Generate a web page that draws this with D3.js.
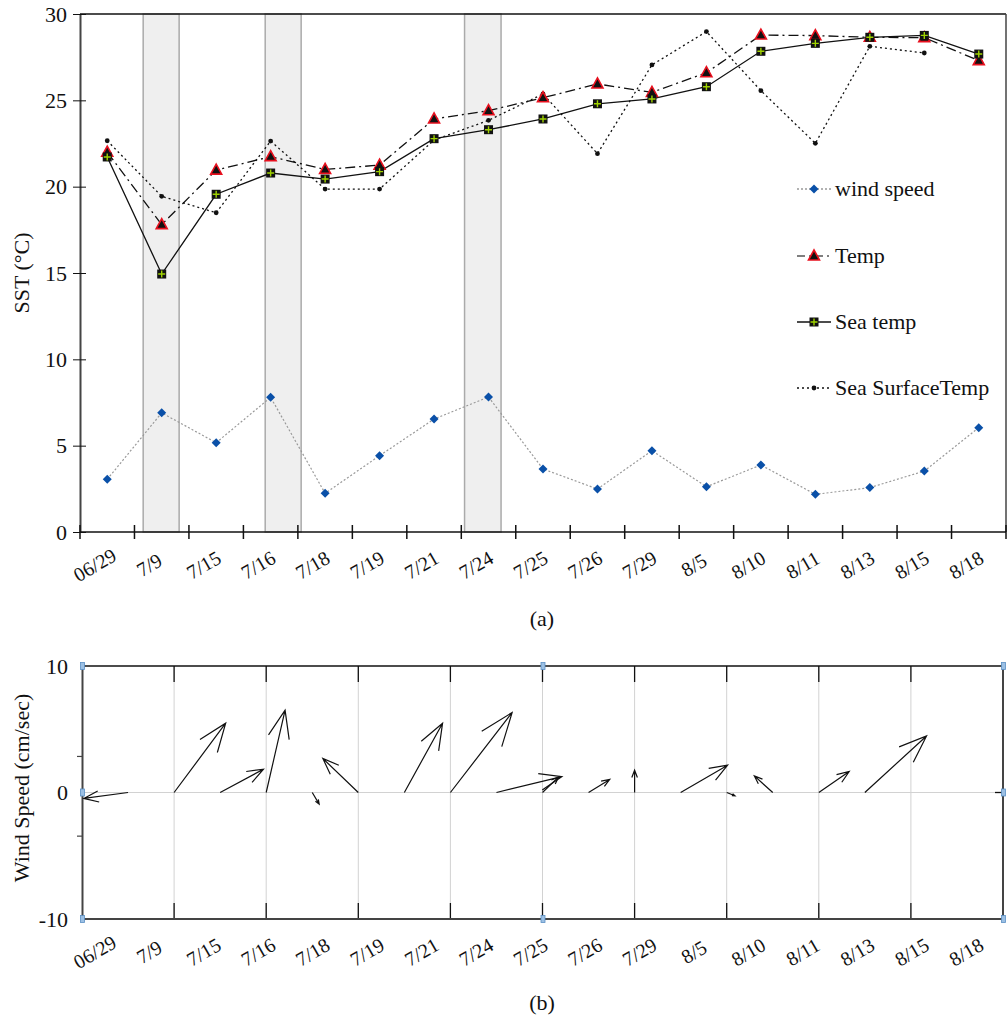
<!DOCTYPE html>
<html>
<head>
<meta charset="utf-8">
<script src="https://cdn.jsdelivr.net/npm/d3@7"></script>
<style>
  body { margin: 0; background: #fff; }
  svg text { font-family: "Liberation Serif", "Times New Roman", Times, serif; fill: #111; }
</style>
</head>
<body>
<script>
// dates shared by both panels
const dates = ["06/29", "7/9", "7/15", "7/16", "7/18", "7/19", "7/21", "7/24", "7/25",
  "7/26", "7/29", "8/5", "8/10", "8/11", "8/13", "8/15", "8/18"];

// panel (a) series
const windSpeed = [3.05, 6.9, 5.17, 7.8, 2.24, 4.42, 6.54, 7.82, 3.65, 2.49, 4.71, 2.62, 3.88, 2.18, 2.57, 3.53, 6.04];
const temp = [22.0, 17.8, 20.96, 21.74, 21.0, 21.25, 23.92, 24.4, 25.15, 25.95, 25.46, 26.6, 28.78, 28.75, 28.65, 28.63, 27.3];
const seaTemp = [21.72, 14.94, 19.56, 20.79, 20.44, 20.87, 22.78, 23.3, 23.92, 24.8, 25.08, 25.79, 27.84, 28.3, 28.65, 28.76, 27.68];
const seaSurfaceTemp = [22.66, 19.44, 18.49, 22.64, 19.86, 19.86, 22.7, 23.84, 25.37, 21.91, 27.05, 28.98, 25.56, 22.51, 28.13, 27.74, null];
// shaded periods, in category-index units (start, end)
const shadedSpans = [[1.16, 1.82], [3.4, 4.06], [7.06, 7.73]];
const sstTicks = [0, 5, 10, 15, 20, 25, 30];

// panel (b) wind vectors (u, v) at x = 1..17
const windX = d3.range(1, 18);
const windU = [-0.96, 1.12, 0.94, 0.41, 0.15, -0.77, 0.83, 1.34, 1.42, 0.35, 0.46, 0, 1.02, 0.18, -0.40, 0.66, 1.34];
const windV = [-0.47, 5.48, 1.84, 6.51, -0.92, 2.69, 5.48, 6.32, 1.26, 1.23, 1.03, 1.76, 2.16, -0.26, 1.31, 1.66, 4.47];
const windTicks = [-10, 0, 10];
const windMinorTicks = [2.85, -3.45];
const gridX = [2, 4, 6, 8, 10, 12, 14, 16, 18];

const FONT = "'Liberation Serif', 'Times New Roman', Times, serif";
const W = 1008, H = 1021;
const svg = d3.select("body").append("svg")
  .attr("width", W)
  .attr("height", H)
  .attr("viewBox", [0, 0, W, H])
  .attr("font-family", FONT);

// ---------- panel (a) ----------
const a = {left: 80, right: 1006, top: 14, bottom: 532};
const x = d3.scaleBand().domain(dates).range([a.left, a.right]);
const xi = d3.scaleLinear().domain([0, dates.length]).range([a.left, a.right]);
const y = d3.scaleLinear().domain([0, 30]).range([a.bottom, a.top]);
const cx = d => x(d) + x.bandwidth() / 2;

// shaded periods
svg.append("g").selectAll("rect")
  .data(shadedSpans)
  .join("rect")
  .attr("x", d => xi(d[0]))
  .attr("y", a.top)
  .attr("width", d => xi(d[1]) - xi(d[0]))
  .attr("height", a.bottom - a.top)
  .attr("fill", "#efefef")
  .attr("stroke", "#aaa")
  .attr("stroke-width", 1.5);

// frame
svg.append("line").attr("x1", a.left).attr("x2", a.right).attr("y1", a.top).attr("y2", a.top)
  .attr("stroke", "#111").attr("stroke-width", 1.5);
svg.append("line").attr("x1", a.right).attr("x2", a.right).attr("y1", a.top).attr("y2", a.bottom)
  .attr("stroke", "#444").attr("stroke-width", 1.5);

// y axis
const yAxisG = svg.append("g")
  .attr("transform", `translate(${a.left},0)`)
  .call(d3.axisLeft(y).tickValues(sstTicks).tickSizeInner(7).tickSizeOuter(0).tickPadding(6));
yAxisG.attr("font-family", FONT);
yAxisG.select(".domain").attr("stroke", "#444").attr("stroke-width", 2);
yAxisG.selectAll(".tick line").attr("x2", 6).attr("x1", -7).attr("stroke", "#111");
yAxisG.selectAll(".tick text").attr("font-size", 22).attr("x", -13);

// x axis
svg.append("line").attr("x1", a.left).attr("x2", a.right).attr("y1", a.bottom).attr("y2", a.bottom)
  .attr("stroke", "#111").attr("stroke-width", 1.5);
svg.append("g").selectAll("line")
  .data(d3.range(dates.length + 1))
  .join("line")
  .attr("x1", d => xi(d))
  .attr("x2", d => xi(d))
  .attr("y1", a.bottom - 7)
  .attr("y2", a.bottom + 7)
  .attr("stroke", "#111")
  .attr("stroke-width", 1.5);

function dateLabels(baseY) {
  svg.append("g").selectAll("text")
    .data(dates)
    .join("text")
    .attr("transform", d => `translate(${cx(d) - 9},${baseY}) rotate(-30)`)
    .attr("text-anchor", "middle")
    .attr("font-size", 20)
    .text(d => d);
}
dateLabels(a.bottom + 39);

svg.append("text")
  .attr("transform", `translate(29,${(a.top + a.bottom) / 2}) rotate(-90)`)
  .attr("text-anchor", "middle")
  .attr("font-size", 22)
  .text("SST (°C)");

// series lines
const line = d3.line()
  .defined(v => v !== null)
  .x((v, i) => cx(dates[i]))
  .y(v => y(v));

svg.append("path").datum(windSpeed).attr("d", line)
  .attr("fill", "none").attr("stroke", "#999").attr("stroke-width", 1.2).attr("stroke-dasharray", "2,2");
svg.append("path").datum(seaSurfaceTemp).attr("d", line)
  .attr("fill", "none").attr("stroke", "#111").attr("stroke-width", 1.3).attr("stroke-dasharray", "2,3");
svg.append("path").datum(temp).attr("d", line)
  .attr("fill", "none").attr("stroke", "#111").attr("stroke-width", 1.3).attr("stroke-dasharray", "10,4,2,4");
svg.append("path").datum(seaTemp).attr("d", line)
  .attr("fill", "none").attr("stroke", "#111").attr("stroke-width", 1.3);

// markers
function diamond(g, px, py) {
  g.append("path").attr("d", `M${px},${py - 4.5}L${px + 4.5},${py}L${px},${py + 4.5}L${px - 4.5},${py}Z`)
    .attr("fill", "#0a50a8");
}
function triangle(g, px, py) {
  g.append("path").attr("d", `M${px},${py - 6}L${px + 5.5},${py + 4}L${px - 5.5},${py + 4}Z`)
    .attr("fill", "#111").attr("stroke", "#e8101e").attr("stroke-width", 1.6);
}
function square(g, px, py) {
  g.append("rect").attr("x", px - 4.5).attr("y", py - 4.5).attr("width", 9).attr("height", 9).attr("fill", "#111");
  g.append("path").attr("d", `M${px - 3.5},${py}H${px + 3.5}M${px},${py - 3.5}V${py + 3.5}`)
    .attr("stroke", "#9fd200").attr("stroke-width", 1.4);
}
function dot(g, px, py) {
  g.append("circle").attr("cx", px).attr("cy", py).attr("r", 2.4).attr("fill", "#111");
}

const mk = svg.append("g");
windSpeed.forEach((v, i) => diamond(mk, cx(dates[i]), y(v)));
seaSurfaceTemp.forEach((v, i) => { if (v !== null) dot(mk, cx(dates[i]), y(v)); });
temp.forEach((v, i) => triangle(mk, cx(dates[i]), y(v)));
seaTemp.forEach((v, i) => square(mk, cx(dates[i]), y(v)));

// legend
const legendItems = [
  {name: "wind speed", dash: "2,2", color: "#999", marker: diamond, y: 189},
  {name: "Temp", dash: "8,4,2,4", color: "#555", marker: triangle, y: 256},
  {name: "Sea temp", dash: null, color: "#111", marker: square, y: 322},
  {name: "Sea SurfaceTemp", dash: "2,3", color: "#111", marker: dot, y: 388}
];
const lg = svg.append("g");
legendItems.forEach(it => {
  lg.append("line").attr("x1", 797).attr("x2", 831).attr("y1", it.y).attr("y2", it.y)
    .attr("stroke", it.color).attr("stroke-width", 1.3).attr("stroke-dasharray", it.dash);
  it.marker(lg, 814, it.y);
  lg.append("text").attr("x", 835).attr("y", it.y + 7).attr("font-size", 22).text(it.name);
});

svg.append("text").attr("x", 542).attr("y", 626).attr("text-anchor", "middle").attr("font-size", 22).text("(a)");

// ---------- panel (b) ----------
const b = {left: 82, right: 1003, top: 666, bottom: 919};
const bx = d3.scaleLinear().domain([0, 20]).range([b.left, b.right]);
const by = d3.scaleLinear().domain([-10, 10]).range([b.bottom, b.top]);

const grid = svg.append("g");
grid.selectAll(".gx").data(gridX).join("line")
  .attr("x1", d => bx(d)).attr("x2", d => bx(d)).attr("y1", b.top).attr("y2", b.bottom)
  .attr("stroke", "#d2d2d2").attr("stroke-width", 1);
grid.append("line").attr("x1", b.left).attr("x2", b.right).attr("y1", by(0)).attr("y2", by(0))
  .attr("stroke", "#d2d2d2").attr("stroke-width", 1.2);
// inner tick marks top and bottom
grid.selectAll(".tt").data(gridX).join("line")
  .attr("x1", d => bx(d)).attr("x2", d => bx(d)).attr("y1", b.top).attr("y2", b.top + 16)
  .attr("stroke", "#111").attr("stroke-width", 1.3);
grid.selectAll(".tb").data(gridX).join("line")
  .attr("x1", d => bx(d)).attr("x2", d => bx(d)).attr("y1", b.bottom - 16).attr("y2", b.bottom)
  .attr("stroke", "#111").attr("stroke-width", 1.3);

// frame
svg.append("line").attr("x1", b.left).attr("x2", b.right).attr("y1", b.top).attr("y2", b.top)
  .attr("stroke", "#111").attr("stroke-width", 1.5);
svg.append("line").attr("x1", b.left).attr("x2", b.right).attr("y1", b.bottom).attr("y2", b.bottom)
  .attr("stroke", "#444").attr("stroke-width", 2);
svg.append("line").attr("x1", b.right).attr("x2", b.right).attr("y1", b.top).attr("y2", b.bottom)
  .attr("stroke", "#444").attr("stroke-width", 2);
svg.append("line").attr("x1", b.right - 8).attr("x2", b.right).attr("y1", by(0)).attr("y2", by(0))
  .attr("stroke", "#111").attr("stroke-width", 1.3);

const byAxis = svg.append("g")
  .attr("transform", `translate(${b.left},0)`)
  .call(d3.axisLeft(by).tickValues(windTicks).tickFormat(d => String(d)).tickSize(0).tickPadding(14));
byAxis.attr("font-family", FONT);
byAxis.select(".domain").attr("stroke", "#444").attr("stroke-width", 2);
byAxis.selectAll(".tick text").attr("font-size", 22);
svg.append("g").selectAll("line").data(windMinorTicks).join("line")
  .attr("x1", b.left - 5).attr("x2", b.left).attr("y1", d => by(d)).attr("y2", d => by(d))
  .attr("stroke", "#444").attr("stroke-width", 1.2);

// arrows
const ag = svg.append("g").attr("stroke", "#111").attr("stroke-width", 1.2).attr("fill", "none");
windX.forEach((xv, i) => {
  const x0 = bx(xv), y0 = by(0);
  const x1 = bx(xv + windU[i]), y1 = by(windV[i]);
  const dx = x1 - x0, dy = y1 - y0;
  const L = Math.hypot(dx, dy);
  if (L < 0.5) return;
  const bxv = -dx * 0.33, byv = -dy * 0.33;
  const px = -byv * 0.38, py = bxv * 0.38;
  ag.append("path").attr("d",
    `M${x0},${y0}L${x1},${y1}` +
    `M${x1 + bxv + px},${y1 + byv + py}L${x1},${y1}L${x1 + bxv - px},${y1 + byv - py}`);
});

// selection handles
const handles = [[b.left, b.top], [b.left, by(0)], [b.left, b.bottom], [bx(10), b.top], [bx(10), b.bottom],
  [b.right, b.top], [b.right, by(0)], [b.right, b.bottom]];
svg.append("g").selectAll("rect").data(handles).join("rect")
  .attr("x", d => d[0] - 1.5).attr("y", d => d[1] - 3.5).attr("width", 4).attr("height", 7)
  .attr("fill", "#9cc0e4").attr("stroke", "#5b8fc4").attr("stroke-width", 0.8);

dateLabels(b.bottom + 39);

svg.append("text")
  .attr("transform", `translate(29,788) rotate(-90)`)
  .attr("text-anchor", "middle")
  .attr("font-size", 22)
  .text("Wind Speed (cm/sec)");

svg.append("text").attr("x", 542).attr("y", 1010).attr("text-anchor", "middle").attr("font-size", 22).text("(b)");
</script>
</body>
</html>
